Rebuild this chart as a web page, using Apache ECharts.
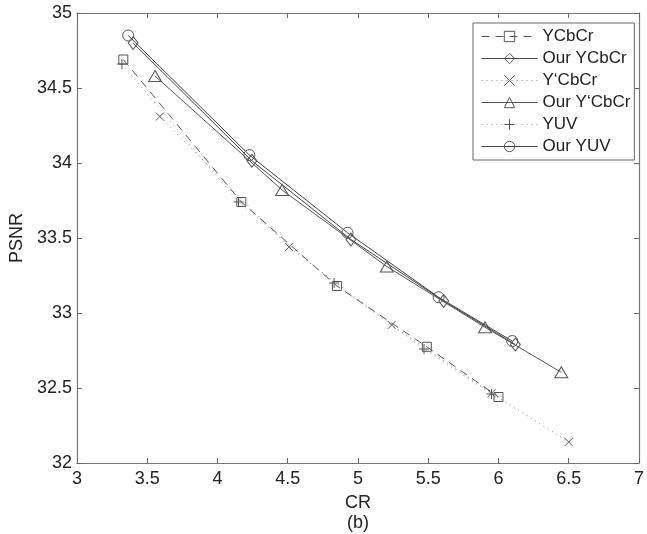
<!DOCTYPE html>
<html>
<head>
<meta charset="utf-8">
<script src="https://cdn.jsdelivr.net/npm/echarts@6/dist/echarts.min.js"></script>
<style>
  html, body { margin: 0; padding: 0; background: #fff; }
  #chart { width: 647px; height: 534px; }
</style>
</head>
<body>
<div id="chart"></div>
<script>
// Rate-distortion curves: compression ratio (CR) vs PSNR per colour space
const seriesNames = ['YCbCr', 'Our YCbCr', 'Y‘CbCr', 'Our Y‘CbCr', 'YUV', 'Our YUV'];

const ycbcrCR    = [3.33, 4.17, 4.85, 5.49, 6.00];
const ycbcrPSNR  = [34.69, 33.74, 33.18, 32.775, 32.44];

const ourYcbcrCR   = [3.40, 4.245, 4.95, 5.61, 6.12];
const ourYcbcrPSNR = [34.80, 34.015, 33.49, 33.08, 32.79];

const ypcbcrCR   = [3.59, 4.51, 5.24, 5.95, 6.50];
const ypcbcrPSNR = [34.31, 33.44, 32.92, 32.465, 32.14];

const ourYpcbcrCR   = [3.556, 4.46, 5.205, 5.904, 6.447];
const ourYpcbcrPSNR = [34.58, 33.82, 33.31, 32.905, 32.605];

const yuvCR   = [3.32, 4.15, 4.83, 5.47, 5.95];
const yuvPSNR = [34.66, 33.74, 33.20, 32.76, 32.46];

const ourYuvCR   = [3.365, 4.227, 4.926, 5.574, 6.098];
const ourYuvPSNR = [34.85, 34.053, 33.535, 33.105, 32.813];

const xTicks = { min: 3, max: 7, step: 0.5 };
const yTicks = { min: 32, max: 35, step: 0.5 };

function pairs(xs, ys) { return xs.map((x, i) => [x, ys[i]]); }

const FONT = '"Liberation Sans Narrow", "Arial Narrow", "Liberation Sans", Arial, sans-serif';
const LEGEND_FONT = '"Liberation Sans", Arial, Helvetica, sans-serif';
const MARK = '#555';

function makeSeries(name, xs, ys, symbol, size, lineType, lineColor) {
  return {
    name: name,
    type: 'line',
    data: pairs(xs, ys),
    symbol: symbol,
    symbolSize: size,
    showAllSymbol: true,
    animation: false,
    lineStyle: { color: lineColor, width: 1, type: lineType },
    itemStyle: { color: 'transparent', borderColor: MARK, borderWidth: 1 },
    emphasis: { disabled: true }
  };
}

const crossPath = 'path://M0,0L10,10M10,0L0,10';
const plusPath = 'path://M5,0L5,10M0,5L10,5';

const chart = echarts.init(document.getElementById('chart'), null, { renderer: 'canvas' });

const tickStyle = { inside: true, length: 5, lineStyle: { color: '#666', width: 1 } };
const axisLineStyle = { lineStyle: { color: '#777', width: 1.2 } };
const labelStyle = { color: '#222', fontSize: 18, fontFamily: FONT };

chart.setOption({
  backgroundColor: '#fff',
  animation: false,
  grid: { left: 73, right: 2, top: 13, bottom: 71 },
  xAxis: [{
    type: 'value',
    min: xTicks.min, max: xTicks.max, interval: xTicks.step,
    name: 'CR', nameLocation: 'middle', nameGap: 31,
    nameTextStyle: { color: '#222', fontSize: 18, fontFamily: FONT },
    axisLine: axisLineStyle,
    axisTick: tickStyle,
    axisLabel: Object.assign({ margin: 7 }, labelStyle),
    splitLine: { show: false }
  }, {
    type: 'value', position: 'top',
    min: xTicks.min, max: xTicks.max, interval: xTicks.step,
    axisLine: axisLineStyle, axisTick: tickStyle,
    axisLabel: { show: false }, splitLine: { show: false }
  }],
  yAxis: [{
    type: 'value',
    min: yTicks.min, max: yTicks.max, interval: yTicks.step,
    name: 'PSNR', nameLocation: 'middle', nameGap: 50,
    nameTextStyle: { color: '#222', fontSize: 18, fontFamily: FONT },
    axisLine: axisLineStyle,
    axisTick: tickStyle,
    axisLabel: Object.assign({ margin: 5 }, labelStyle),
    splitLine: { show: false }
  }, {
    type: 'value', position: 'right',
    min: yTicks.min, max: yTicks.max, interval: yTicks.step,
    axisLine: axisLineStyle, axisTick: tickStyle,
    axisLabel: { show: false }, splitLine: { show: false }
  }],
  legend: {
    orient: 'vertical',
    left: 473, top: 23,
    padding: [5, 4, 5, 8],
    itemGap: 5,
    itemWidth: 56,
    itemHeight: 13,
    borderColor: '#666',
    borderWidth: 1,
    backgroundColor: '#fff',
    selectedMode: false,
    lineStyle: { width: 1 },
    itemStyle: { borderWidth: 1 },
    textStyle: { color: '#222', fontSize: 17, fontFamily: LEGEND_FONT, lineHeight: 16 },
    data: seriesNames
  },
  graphic: [{
    type: 'text',
    left: 358 - 11, top: 514,
    style: { text: '(b)', fill: '#222', font: '18px ' + FONT }
  }],
  series: [
    makeSeries(seriesNames[0], ycbcrCR, ycbcrPSNR, 'rect', 9, [8, 6], '#555'),
    makeSeries(seriesNames[1], ourYcbcrCR, ourYcbcrPSNR, 'diamond', [10, 13], 'solid', '#444'),
    makeSeries(seriesNames[2], ypcbcrCR, ypcbcrPSNR, crossPath, 8, [1, 4], '#888'),
    makeSeries(seriesNames[3], ourYpcbcrCR, ourYpcbcrPSNR, 'triangle', [13, 11], 'solid', '#555'),
    makeSeries(seriesNames[4], yuvCR, yuvPSNR, plusPath, 10, [1, 4], '#999'),
    makeSeries(seriesNames[5], ourYuvCR, ourYuvPSNR, 'circle', 11, 'solid', '#444')
  ]
});
</script>
</body>
</html>
